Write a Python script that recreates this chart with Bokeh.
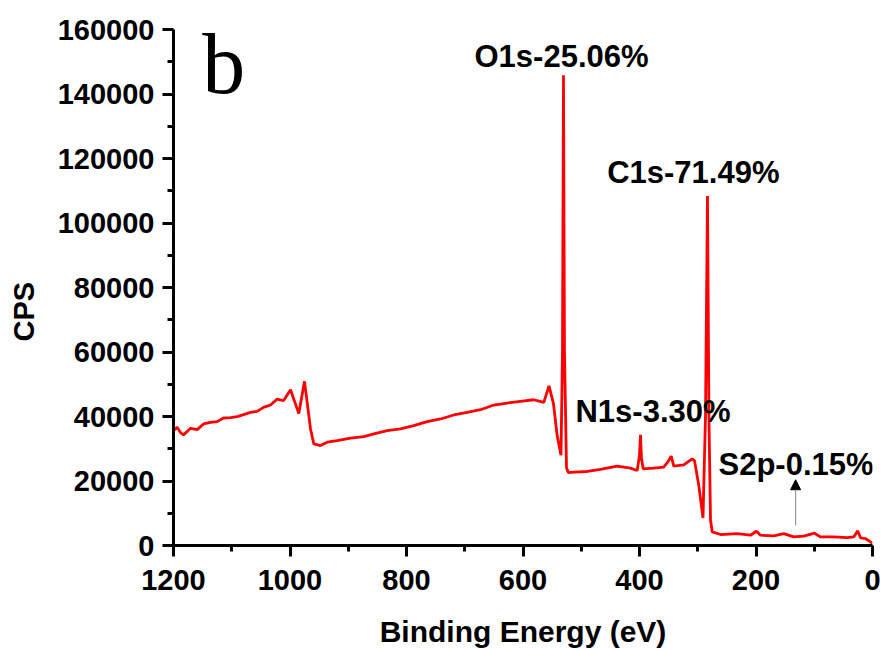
from bokeh.plotting import figure
from bokeh.models import (Range1d, FixedTicker, BasicTickFormatter, Label, Arrow,
                          NormalHead, ColumnDataSource)
from bokeh.embed import file_html
from bokeh.resources import INLINE

# ---- data (XPS survey spectrum) ----
binding_energy = [1200, 1193.6, 1188.0, 1182.8, 1170.8, 1159.3, 1148.5, 1136.5, 1125.0,
                  1114.2, 1102.1, 1090.6, 1079.8, 1067.8, 1056.3, 1045.5, 1033.5, 1022.0,
                  1011.2, 999.1, 984.9, 975.1, 964.8, 959.1, 947.6, 936.1, 919.0, 896.1,
                  873.3, 856.1, 833.1, 810.3, 787.5, 764.5, 741.6, 718.8, 695.8, 672.9,
                  650.1, 627.1, 604.3, 581.5, 564.3, 555.4, 547.7, 541.3, 534.8, 532.2,
                  530.5, 528.8, 525.3, 521.9, 512.8, 489.8, 467.0, 438.3, 415.5, 404.0,
                  400.0, 398.3, 396.6, 393.7, 375.5, 358.3, 349.7, 345.6, 341.1, 324.0,
                  309.6, 305.6, 298.2, 291.0, 286.7, 283.3, 280.8, 278.1, 275.2, 260.9,
                  232.3, 209.5, 199.2, 192.3, 169.5, 152.3, 135.2, 118.0, 99.6, 89.6,
                  66.5, 43.5, 32.2, 25.3, 20.6, 12.1, 3.6, 0.5]
cps = [35600, 36660, 35000, 34300, 36350, 35930, 37690, 38200, 38400,
       39540, 39640, 39950, 40560, 41300, 41610, 42850, 43560, 45400,
       44880, 48300, 40900, 50900, 36140, 31500, 30980, 32030, 32530, 33270,
       33770, 34600, 35620, 36140, 37170, 38400, 39230, 40470, 41300, 42100,
       43560, 44170, 44690, 45190, 44400, 49520, 44000, 34070, 28000, 60000,
       145800, 60000, 24000, 22600, 22770, 22950, 23570, 24620, 24000, 23260,
       28000, 34290, 27000, 23790, 24000, 24310, 26350, 27710, 24620, 25020,
       26870, 26350, 18630, 8500, 40000, 108400, 40000, 8000, 4230, 3400,
       3700, 3190, 4420, 3190, 2990, 3700, 2680, 2880, 3810, 2680,
       2680, 2470, 2680, 4530, 2370, 2160, 1130, 620]

x_ticks = [1200, 1000, 800, 600, 400, 200, 0]
x_minor = [1100, 900, 700, 500, 300, 100]
y_ticks = [0, 20000, 40000, 60000, 80000, 100000, 120000, 140000, 160000]
y_minor = [10000, 30000, 50000, 70000, 90000, 110000, 130000, 150000]

peak_labels = ["O1s-25.06%", "C1s-71.49%", "N1s-3.30%", "S2p-0.15%"]
label_x = [683.3, 455.5, 509.9, 264.4]
label_y = [151700, 115800, 41600, 25000]

panel_letter = "b"
panel_x = 1150.7
panel_y = 149200

arrow_x = 132
arrow_y0 = 6180
arrow_y1 = 20390

FONT = "Liberation Sans"

p = figure(width=883, height=650, output_backend="svg", toolbar_location=None,
           x_range=Range1d(1200, 0), y_range=Range1d(0, 160000),
           min_border_left=173, min_border_right=11, min_border_top=29,
           min_border_bottom=103)
p.outline_line_color = None
p.xgrid.visible = False
p.ygrid.visible = False
p.background_fill_color = "white"
p.border_fill_color = "white"

src = ColumnDataSource(dict(x=binding_energy, y=cps))
p.line("x", "y", source=src, line_color="#ff0000", line_width=2.8)

for ax in (p.xaxis[0], p.yaxis[0]):
    ax.axis_line_width = 3
    ax.axis_line_color = "black"
    ax.major_tick_line_width = 3
    ax.minor_tick_line_width = 3
    ax.major_tick_out = 11
    ax.major_tick_in = 0
    ax.minor_tick_out = 6
    ax.minor_tick_in = 0
    ax.major_label_text_font = FONT
    ax.major_label_text_font_style = "bold"
    ax.major_label_text_font_size = "29px"
    ax.major_label_text_color = "black"
    ax.major_label_standoff = 8

p.xaxis.major_label_standoff = 13
p.xaxis.ticker = FixedTicker(ticks=x_ticks, minor_ticks=x_minor)
p.yaxis.ticker = FixedTicker(ticks=y_ticks, minor_ticks=y_minor)
p.yaxis.formatter = BasicTickFormatter(use_scientific=False)
p.xaxis.formatter = BasicTickFormatter(use_scientific=False)

p.xaxis.axis_label = "Binding Energy (eV)"
p.xaxis.axis_label_text_font = FONT
p.xaxis.axis_label_text_font_style = "bold"
p.xaxis.axis_label_text_font_size = "30px"
p.xaxis.axis_label_text_color = "black"
p.xaxis.axis_label_standoff = 22

p.yaxis.axis_label = "CPS" + "\u00a0" * 6
p.yaxis.axis_label_text_font = FONT
p.yaxis.axis_label_text_font_style = "bold"
p.yaxis.axis_label_text_font_size = "29px"
p.yaxis.axis_label_text_color = "black"
p.yaxis.axis_label_standoff = 15

for t, lx, ly in zip(peak_labels, label_x, label_y):
    p.add_layout(Label(x=lx, y=ly, text=t, text_align="left",
                       text_baseline="alphabetic", text_font=FONT,
                       text_font_style="bold", text_font_size="31px",
                       text_color="black"))

p.add_layout(Label(x=panel_x, y=panel_y, text=panel_letter, text_align="left",
                   text_baseline="alphabetic", text_font="Liberation Serif",
                   text_font_size="86px", text_color="black"))

p.add_layout(Arrow(end=NormalHead(size=10, fill_color="black", line_color="black",
                                  line_width=1),
                   x_start=arrow_x, y_start=arrow_y0, x_end=arrow_x, y_end=arrow_y1,
                   line_color="#999999", line_width=1.2))

open("out.html", "w").write(file_html(p, INLINE))
